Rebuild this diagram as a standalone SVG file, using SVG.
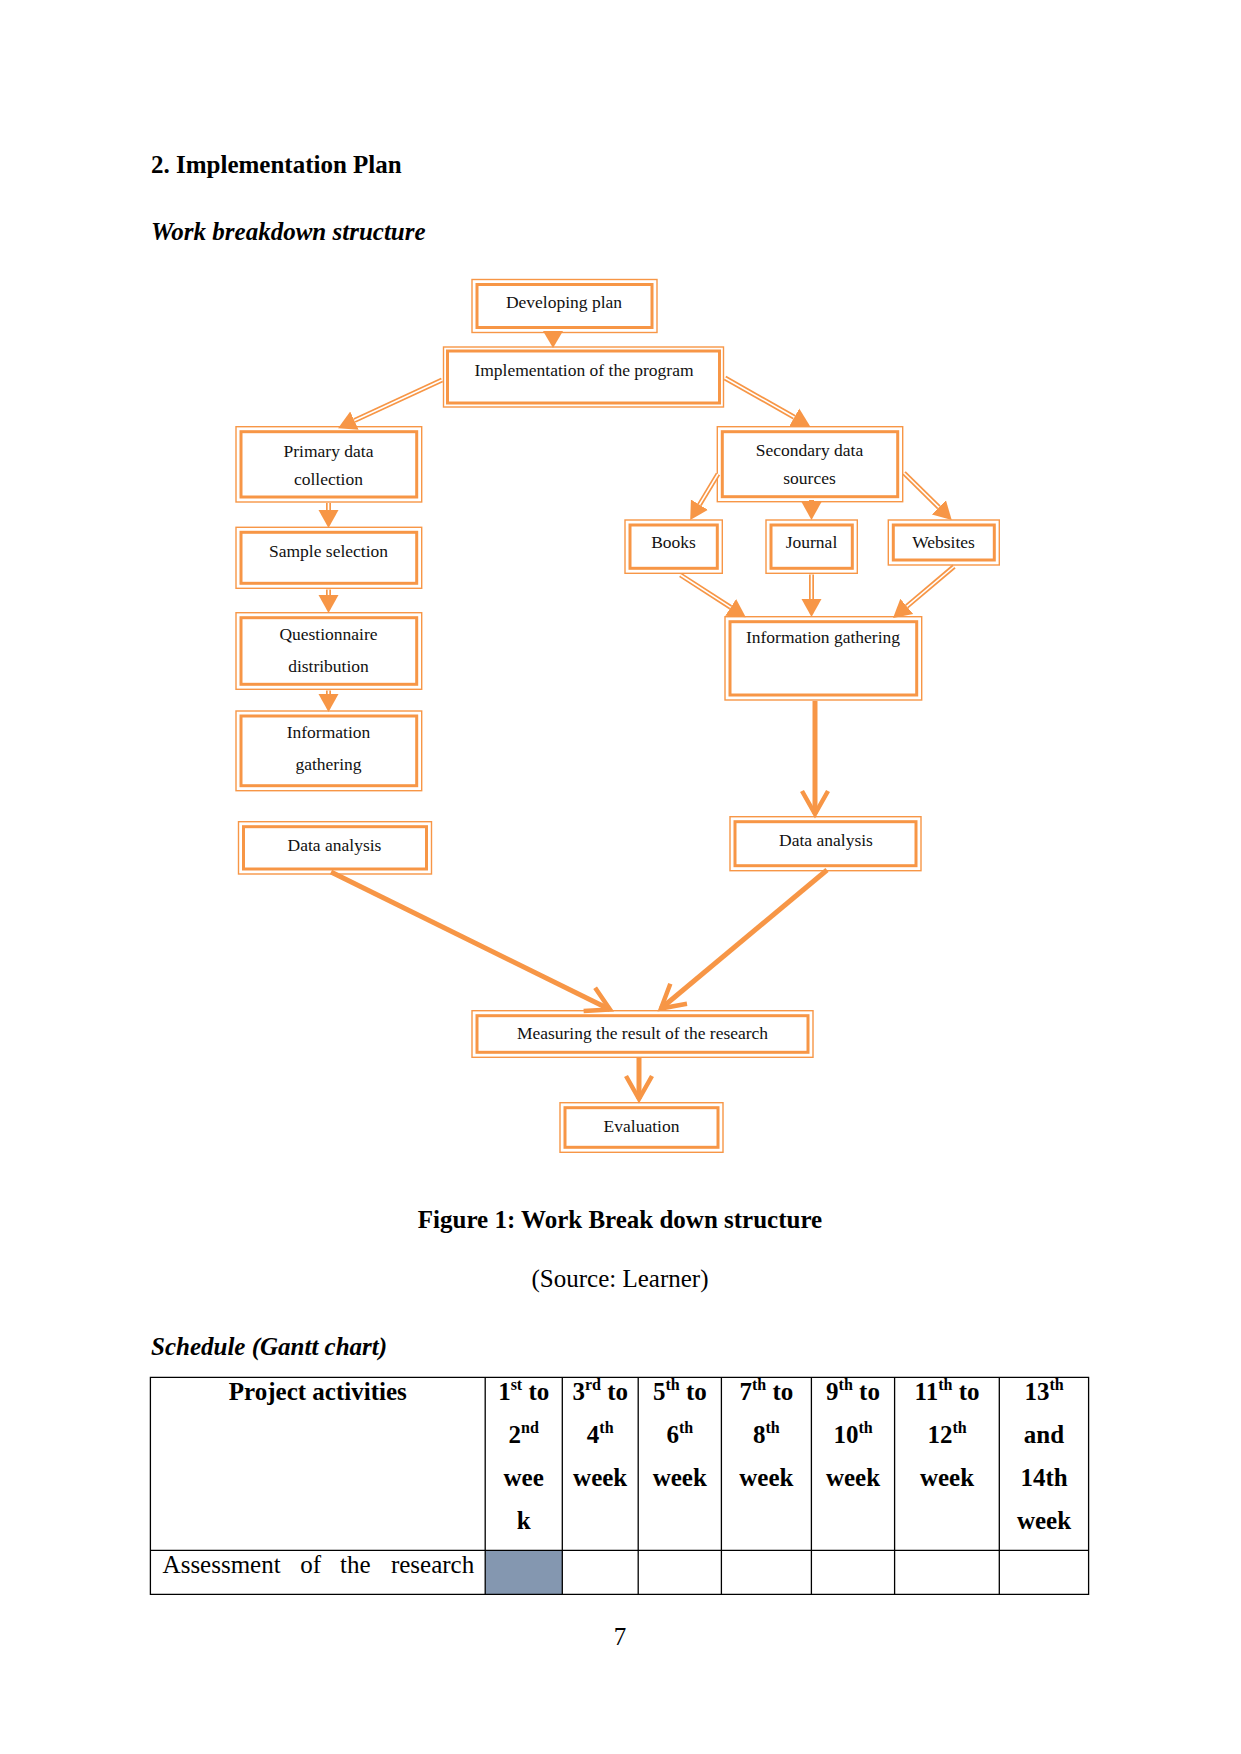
<svg xmlns="http://www.w3.org/2000/svg" width="1241" height="1754" viewBox="0 0 1241 1754">
<style>
.ob{fill:#fff;stroke:#F79646;stroke-width:1.4}
.ib{fill:none;stroke:#F79646;stroke-width:3}
.nt{font-family:"Liberation Serif",serif;font-size:17.5px;fill:#111;text-anchor:middle}
.sh{stroke:#F79646;stroke-width:5;fill:none}
.sw{stroke:#fff;stroke-width:1.6;fill:none}
.tk{stroke:#F79646;stroke-width:5;fill:none}
.hd{font-family:"Liberation Serif",serif;font-size:25px;font-weight:bold;fill:#000}
.hi{font-family:"Liberation Serif",serif;font-size:25px;font-weight:bold;font-style:italic;fill:#000}
.rg{font-family:"Liberation Serif",serif;font-size:25px;fill:#000}
.tb{font-family:"Liberation Serif",serif;font-size:25px;font-weight:bold;fill:#000;text-anchor:middle}
.sup{font-size:16px}
.gl{stroke:#000;stroke-width:1.3;fill:none}
</style>
<defs>
<marker id="tri" markerUnits="userSpaceOnUse" markerWidth="20" markerHeight="22" viewBox="0 -11 20 22" refX="0" refY="0" orient="auto">
<path d="M0,-10 L18,0 L0,10 z" fill="#F79646"/>
</marker>
<marker id="chev" markerUnits="userSpaceOnUse" markerWidth="34" markerHeight="36" viewBox="-28 -18 34 36" refX="0" refY="0" orient="auto" overflow="visible">
<path d="M-23,-13 L0,0 L-23,13" fill="none" stroke="#F79646" stroke-width="4.5"/>
</marker>
</defs>
<rect width="1241" height="1754" fill="#fff"/>

<text class="hd" x="151" y="173">2. Implementation Plan</text>
<text class="hi" x="151" y="240">Work breakdown structure</text>

<g id="nodes">
<g id="n-dev"><rect class="ob" x="472" y="279.5" width="185" height="53"/><rect class="ib" x="477" y="284.5" width="175" height="43"/><text class="nt" x="564" y="308">Developing plan</text></g>
<g id="n-impl"><rect class="ob" x="443.5" y="347" width="280" height="60"/><rect class="ib" x="447.5" y="351" width="272" height="52"/><text class="nt" x="584" y="376">Implementation of the program</text></g>
<g id="n-primary"><rect class="ob" x="236" y="426.7" width="185.7" height="75.3"/><rect class="ib" x="241" y="431.7" width="175.7" height="65.3"/><text class="nt" x="328.5" y="456.7">Primary data</text><text class="nt" x="328.5" y="485">collection</text></g>
<g id="n-sample"><rect class="ob" x="236" y="527.3" width="185.7" height="61"/><rect class="ib" x="241" y="532.3" width="175.7" height="51"/><text class="nt" x="328.5" y="556.7">Sample selection</text></g>
<g id="n-quest"><rect class="ob" x="236" y="612.7" width="185.7" height="76.6"/><rect class="ib" x="241" y="617.7" width="175.7" height="66.6"/><text class="nt" x="328.5" y="640">Questionnaire</text><text class="nt" x="328.5" y="671.7">distribution</text></g>
<g id="n-infoL"><rect class="ob" x="236" y="711" width="185.7" height="79.7"/><rect class="ib" x="241" y="716" width="175.7" height="69.7"/><text class="nt" x="328.5" y="738.3">Information</text><text class="nt" x="328.5" y="770">gathering</text></g>
<g id="n-daL"><rect class="ob" x="238.5" y="821.7" width="193" height="52.3"/><rect class="ib" x="243.5" y="826.7" width="183" height="42.3"/><text class="nt" x="334.5" y="850.7">Data analysis</text></g>
<g id="n-second"><rect class="ob" x="717.3" y="426.7" width="185.4" height="75"/><rect class="ib" x="722.3" y="431.7" width="175.4" height="65"/><text class="nt" x="809.5" y="455.7">Secondary data</text><text class="nt" x="809.5" y="484">sources</text></g>
<g id="n-books"><rect class="ob" x="625" y="520" width="97.3" height="53.3"/><rect class="ib" x="630" y="525" width="87.3" height="43.3"/><text class="nt" x="673.5" y="548.3">Books</text></g>
<g id="n-journal"><rect class="ob" x="766" y="520" width="91.3" height="53.3"/><rect class="ib" x="771" y="525" width="81.3" height="43.3"/><text class="nt" x="811.5" y="548.3">Journal</text></g>
<g id="n-web"><rect class="ob" x="888.3" y="520" width="111" height="45"/><rect class="ib" x="893.3" y="525" width="101" height="35"/><text class="nt" x="943.5" y="548.3">Websites</text></g>
<g id="n-infoR"><rect class="ob" x="725" y="616.7" width="196.7" height="83.3"/><rect class="ib" x="730" y="621.7" width="186.7" height="73.3"/><text class="nt" x="823" y="643.3">Information gathering</text></g>
<g id="n-daR"><rect class="ob" x="730" y="816.7" width="191" height="54"/><rect class="ib" x="735" y="821.7" width="181" height="44"/><text class="nt" x="826" y="845.7">Data analysis</text></g>
<g id="n-meas"><rect class="ob" x="472" y="1010.7" width="341" height="46.6"/><rect class="ib" x="477" y="1015.7" width="331" height="36.6"/><text class="nt" x="642.5" y="1039.3">Measuring the result of the research</text></g>
<g id="n-eval"><rect class="ob" x="560" y="1102.7" width="163" height="49.6"/><rect class="ib" x="565" y="1107.7" width="153" height="39.6"/><text class="nt" x="641.5" y="1131.7">Evaluation</text></g>
</g>

<g id="connectors">
<path d="M543,331 L563,331 L553,348 z" fill="#F79646"/>
<path class="sh" d="M442,380 L354.4,420.6" marker-end="url(#tri)"/><path class="sw" d="M442,380 L354.4,420.6"/>
<path class="sh" d="M725,378 L794.3,417.2" marker-end="url(#tri)"/><path class="sw" d="M725,378 L794.3,417.2"/>
<path class="sh" d="M328.5,503 L328.5,510" marker-end="url(#tri)"/><path class="sw" d="M328.5,503 L328.5,510"/>
<path class="sh" d="M328.5,589.5 L328.5,595" marker-end="url(#tri)"/><path class="sw" d="M328.5,589.5 L328.5,595"/>
<path class="sh" d="M328.5,690.5 L328.5,694" marker-end="url(#tri)"/><path class="sw" d="M328.5,690.5 L328.5,694"/>
<path class="sh" d="M718,474 L699.5,504.7" marker-end="url(#tri)"/><path class="sw" d="M718,474 L699.5,504.7"/>
<path class="sh" d="M811.5,500 L811.5,502" marker-end="url(#tri)"/>
<path class="sh" d="M904,473 L938.9,507.4" marker-end="url(#tri)"/><path class="sw" d="M904,473 L938.9,507.4"/>
<path class="sh" d="M680.5,575 L730.7,607.4" marker-end="url(#tri)"/><path class="sw" d="M680.5,575 L730.7,607.4"/>
<path class="sh" d="M811.5,574.5 L811.5,599" marker-end="url(#tri)"/><path class="sw" d="M811.5,574.5 L811.5,599"/>
<path class="sh" d="M954,566.5 L906.8,606.4" marker-end="url(#tri)"/><path class="sw" d="M954,566.5 L906.8,606.4"/>
<path class="tk" d="M815,701 L815,814" marker-end="url(#chev)"/>
<path class="tk" d="M331,872 L610,1009.5" marker-end="url(#chev)"/>
<path class="tk" d="M827,870 L661,1008.5" marker-end="url(#chev)"/>
<path class="tk" d="M639,1058 L639,1099" marker-end="url(#chev)"/>
</g>

<text class="hd" x="620" y="1228" text-anchor="middle">Figure 1: Work Break down structure</text>
<text class="rg" x="620" y="1287" text-anchor="middle">(Source: Learner)</text>
<text class="hi" x="151" y="1355">Schedule (Gantt chart)</text>

<g id="gantt">
<rect x="485.2" y="1550.3" width="77.1" height="44" fill="#8497B0"/>
<path class="gl" d="M150.4,1377.3 H1088.6 V1594.3 H150.4 Z M150.4,1550.3 H1088.6 M485.2,1377.3 V1594.3 M562.3,1377.3 V1594.3 M638.2,1377.3 V1594.3 M721.4,1377.3 V1594.3 M811.4,1377.3 V1594.3 M894.6,1377.3 V1594.3 M999.3,1377.3 V1594.3"/>
<text class="tb" x="317.8" y="1400">Project activities</text>
<text class="tb" x="523.7" y="1400">1<tspan class="sup" dy="-10">st</tspan><tspan dy="10"> to</tspan></text>
<text class="tb" x="523.7" y="1443">2<tspan class="sup" dy="-10">nd</tspan></text>
<text class="tb" x="523.7" y="1486">wee</text>
<text class="tb" x="523.7" y="1529">k</text>
<text class="tb" x="600.2" y="1400">3<tspan class="sup" dy="-10">rd</tspan><tspan dy="10"> to</tspan></text>
<text class="tb" x="600.2" y="1443">4<tspan class="sup" dy="-10">th</tspan></text>
<text class="tb" x="600.2" y="1486">week</text>
<text class="tb" x="679.8" y="1400">5<tspan class="sup" dy="-10">th</tspan><tspan dy="10"> to</tspan></text>
<text class="tb" x="679.8" y="1443">6<tspan class="sup" dy="-10">th</tspan></text>
<text class="tb" x="679.8" y="1486">week</text>
<text class="tb" x="766.4" y="1400">7<tspan class="sup" dy="-10">th</tspan><tspan dy="10"> to</tspan></text>
<text class="tb" x="766.4" y="1443">8<tspan class="sup" dy="-10">th</tspan></text>
<text class="tb" x="766.4" y="1486">week</text>
<text class="tb" x="853" y="1400">9<tspan class="sup" dy="-10">th</tspan><tspan dy="10"> to</tspan></text>
<text class="tb" x="853" y="1443">10<tspan class="sup" dy="-10">th</tspan></text>
<text class="tb" x="853" y="1486">week</text>
<text class="tb" x="947" y="1400">11<tspan class="sup" dy="-10">th</tspan><tspan dy="10"> to</tspan></text>
<text class="tb" x="947" y="1443">12<tspan class="sup" dy="-10">th</tspan></text>
<text class="tb" x="947" y="1486">week</text>
<text class="tb" x="1044" y="1400">13<tspan class="sup" dy="-10">th</tspan></text>
<text class="tb" x="1044" y="1443">and</text>
<text class="tb" x="1044" y="1486">14th</text>
<text class="tb" x="1044" y="1529">week</text>
<text class="rg" x="162.6" y="1572.7">Assessment</text>
<text class="rg" x="300.3" y="1572.7">of</text>
<text class="rg" x="340.1" y="1572.7">the</text>
<text class="rg" x="390.9" y="1572.7">research</text>
</g>

<text class="rg" x="620" y="1645" text-anchor="middle">7</text>
</svg>
